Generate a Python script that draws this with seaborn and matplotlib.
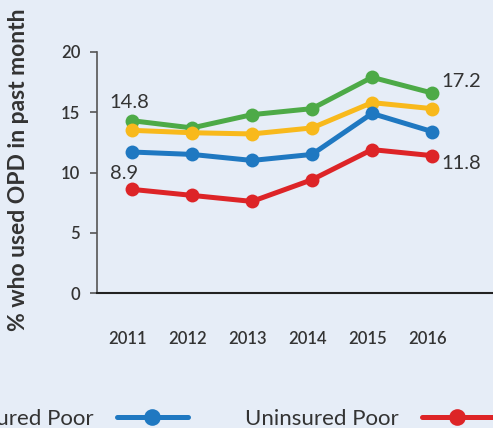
import numpy as np
import matplotlib.pyplot as plt
import matplotlib.transforms as mtransforms
import seaborn as sns
import pandas as pd
from matplotlib.lines import Line2D

years = [2011, 2012, 2013, 2014, 2015, 2016]

insured_nonpoor = [14.3, 13.7, 14.8, 15.3, 17.9, 16.6]
uninsured_nonpoor = [13.5, 13.3, 13.2, 13.7, 15.8, 15.3]
insured_poor = [11.7, 11.5, 11.0, 11.5, 14.9, 13.4]
uninsured_poor = [8.6, 8.1, 7.6, 9.4, 11.9, 11.4]

groups = ["Insured Non-Poor", "Uninsured Non-Poor", "Insured Poor", "Uninsured Poor"]
colors = ["#4DAA47", "#F8B91C", "#1F78C1", "#DD2427"]

# end labels shown on the chart
label_text = ["14.8", "8.9", "17.2", "11.8"]

df = pd.DataFrame({
    "Year": years * 4,
    "Value": insured_nonpoor + uninsured_nonpoor + insured_poor + uninsured_poor,
    "Group": np.repeat(groups, len(years)),
})

bg = "#E6EDF7"
sns.set_theme(style="white")
plt.rcParams["font.family"] = ["Lato", "DejaVu Sans"]

fig = plt.figure(figsize=(4.93, 4.28), dpi=100)
fig.patch.set_facecolor(bg)
ax = fig.add_axes([97 / 493, 1 - 293 / 428, 396 / 493, 241 / 428])
ax.set_facecolor(bg)

sns.lineplot(data=df, x="Year", y="Value", hue="Group", hue_order=groups,
             palette=colors, marker="o", markersize=10, markeredgewidth=0,
             linewidth=3.6, legend=False, ax=ax)

ax.set_xlim(2011 - 35 / 60, 2011 - 35 / 60 + 396 / 60)
ax.set_ylim(0, 20)
ax.set_xticks(years)
ax.set_yticks([0, 5, 10, 15, 20])
ax.set_xlabel("")
ax.set_ylabel("% who used OPD in past month", fontsize=16.5, fontweight="bold", color="#333333")
ax.yaxis.set_label_coords(-0.172, 0.51)

for s in ["top", "right"]:
    ax.spines[s].set_visible(False)
ax.spines["left"].set_color("#555555")
ax.spines["left"].set_linewidth(1.2)
ax.spines["bottom"].set_color("#222222")
ax.spines["bottom"].set_linewidth(1.5)

ax.tick_params(axis="x", length=0, pad=27, labelsize=12, labelcolor="#333333")
ax.tick_params(axis="y", length=5, width=1.2, color="#555555", pad=7,
               labelsize=12, labelcolor="#333333", left=True)
for t in ax.get_xticklabels() + ax.get_yticklabels():
    t.set_fontweight("semibold")
# year labels sit a little left of the points
shift = mtransforms.ScaledTranslation(-4 / 100, 0, fig.dpi_scale_trans)
for t in ax.get_xticklabels():
    t.set_transform(t.get_transform() + shift)

# value labels
ann = dict(textcoords="offset points", va="center", fontsize=14.5, color="#333333")
ax.annotate(label_text[0], (years[0], insured_nonpoor[0]), xytext=(-16, 13), ha="left", **ann)
ax.annotate(label_text[1], (years[0], uninsured_poor[0]), xytext=(-16, 11.5), ha="left", **ann)
ax.annotate(label_text[2], (years[-1], insured_nonpoor[-1]), xytext=(7, 8.4), ha="left", **ann)
ax.annotate(label_text[3], (years[-1], uninsured_poor[-1]), xytext=(7, -6), ha="left", **ann)

handles = [Line2D([], [], color=colors[i], lw=3.6, marker="o", markersize=12, markeredgewidth=0)
           for i in [2, 3]]
fig.legend(handles, [groups[2], groups[3]], ncol=2, markerfirst=False, frameon=False,
           loc="center right", bbox_to_anchor=(1.0, 9 / 428), borderpad=0, borderaxespad=0,
           fontsize=16, handlelength=3.2, handletextpad=1.04, columnspacing=2.57,
           labelcolor="#333333")

fig.savefig("out.png", dpi=100, facecolor=bg)
